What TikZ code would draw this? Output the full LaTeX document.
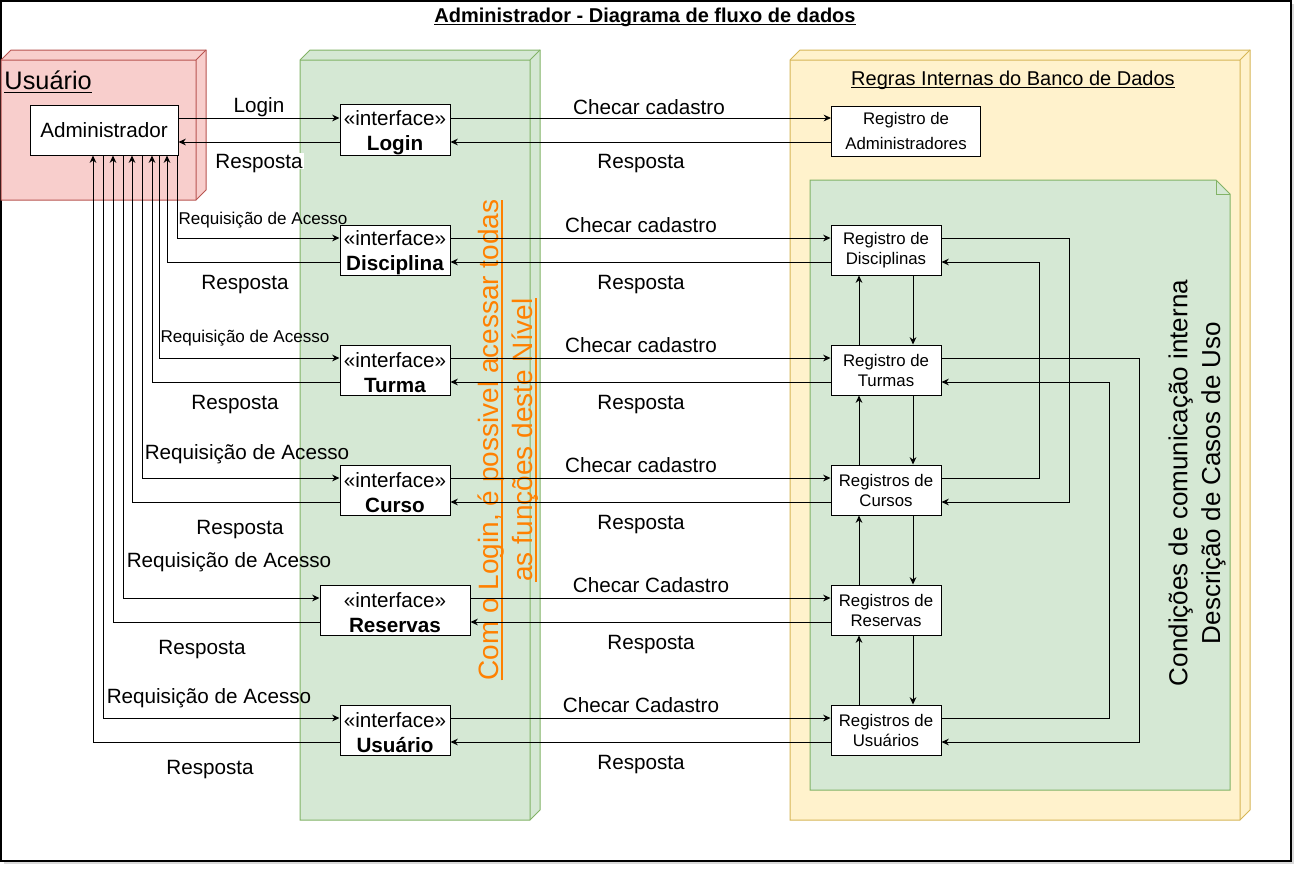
\documentclass[tikz,border=0pt]{standalone}
\usepackage{fontspec}
\setmainfont{Liberation Sans}
\usetikzlibrary{arrows.meta}
\usetikzlibrary{calc}

\definecolor{redfill}{HTML}{F8CECC}
\definecolor{redline}{HTML}{B85450}
\definecolor{greenfill}{HTML}{D5E8D4}
\definecolor{greenline}{HTML}{82B366}
\definecolor{yellowfill}{HTML}{FFF2CC}
\definecolor{yellowline}{HTML}{D6B656}
\definecolor{laranja}{HTML}{FF8000}

% sublinhado mais grosso
\newcommand{\sublinha}[1]{\setbox0\hbox{#1}\leavevmode\rlap{\rule[-0.15em]{\wd0}{0.06em}}\box0}

\tikzset{
  iface/.style={draw, fill=white, minimum width=82.5pt, minimum height=37.5pt, inner sep=0pt, align=center, font={\fontsize{15.5}{18.75}\selectfont}},
  regbox/.style={draw, fill=white, minimum width=82.5pt, minimum height=37.5pt, inner sep=0pt, align=center, font={\fontsize{12.6}{15}\selectfont}},
  lbl/.style={inner sep=1pt, text depth=0pt, font={\fontsize{15.5}{18.6}\selectfont}},
  slbl/.style={inner sep=1pt, text depth=0pt, font={\fontsize{12.8}{15}\selectfont}},
}

\begin{document}
\begin{tikzpicture}[x=0.75pt, y=-0.75pt, >={Stealth[length=5.5pt,width=5pt]}, line width=0.75pt]
    \useasboundingbox (0,0) rectangle (1302,872);
    % moldura
    \fill[black!15] (4,4) rectangle (1294,864);
    \draw[fill=white, line width=1.2pt] (1,1) rectangle (1291,861);
    \node (titulo) at (645,17) {\fontsize{15}{18}\selectfont\sublinha{\textbf{Administrador - Diagrama de fluxo de dados}}};

    % caixas 3D
    \filldraw[draw=redline, fill=redfill] (1,60) -- (11,50) -- (206,50) -- (206,190) -- (196,200) -- (1,200) -- cycle;
    \draw[redline] (1,60) -- (196,60) -- (196,200) (196,60) -- (206,50);
    \node[anchor=west, inner sep=0pt] (usuario-t) at (4,82) {\fontsize{19}{22}\selectfont\sublinha{Usuário}};

    \filldraw[draw=greenline, fill=greenfill] (300,60) -- (310,50) -- (540,50) -- (540,810) -- (530,820) -- (300,820) -- cycle;
    \draw[greenline] (300,60) -- (530,60) -- (530,820) (530,60) -- (540,50);

    \filldraw[draw=yellowline, fill=yellowfill] (790,60) -- (800,50) -- (1250,50) -- (1250,810) -- (1240,820) -- (790,820) -- cycle;
    \draw[yellowline] (790,60) -- (1240,60) -- (1240,820) (1240,60) -- (1250,50);
    \node (regras-t) at (1013,80) {\fontsize{15}{18}\selectfont\sublinha{Regras Internas do Banco de Dados}};

    % nota verde
    \filldraw[draw=greenline, fill=greenfill] (810,180) -- (1216,180) -- (1230,194) -- (1230,790) -- (810,790) -- cycle;
    \draw[greenline] (1216,180) -- (1216,194) -- (1230,194);
    \node[rotate=90, align=center, font={\fontsize{19.5}{24.5}\selectfont}] (cond-t) at (1197,483) {Condições de comunicação interna\\Descrição de Casos de Uso};

    \node[rotate=90, align=center, text=laranja, font={\fontsize{21}{25.5}\selectfont}] (login-t) at (508,440) {\sublinha{Com o Login, é possivel acessar todas}\\\sublinha{as funções deste Nível}};

    % nos
    \node[draw, fill=white, minimum width=111pt, minimum height=37.5pt, font={\fontsize{15.5}{18.6}\selectfont}] (admin) at (104,130) {Administrador};

    \node[iface] (login) at (395,130) {\rule{0pt}{15.5pt}«interface»\\\textbf{Login}};
    \node[iface] (disc) at (395,250) {\rule{0pt}{15.5pt}«interface»\\\textbf{Disciplina}};
    \node[iface] (turma) at (395,370) {\rule{0pt}{15.5pt}«interface»\\\textbf{Turma}};
    \node[iface] (curso) at (395,490) {\rule{0pt}{15.5pt}«interface»\\\textbf{Curso}};
    \node[iface, minimum width=112.5pt] (reserva) at (395,610) {\rule{0pt}{15.5pt}«interface»\\\textbf{Reservas}};
    \node[iface] (usuario) at (395,730) {\rule{0pt}{15.5pt}«interface»\\\textbf{Usuário}};

    \node[regbox, minimum width=111.75pt, font={\fontsize{12.6}{19}\selectfont}] (radmin) at (906,131) {Registro de\\Administradores};
    \node[regbox] (rdisc) at (886,250) {Registro de\\Disciplinas};
    \node[regbox] (rturma) at (886,370) {Registro de\\Turmas};
    \node[regbox] (rcurso) at (886,490) {Registros de\\Cursos};
    \node[regbox] (rreserva) at (886,610) {Registros de\\Reservas};
    \node[regbox] (rusu) at (886,730) {Registros de\\Usuários};

    % administrador <-> interfaces
    \draw[->] ($(admin.east)+(0,-12)$) -- ($(login.west)+(0,-12)$);
    \draw[->] ($(login.west)+(0,12)$) -- ($(admin.east)+(0,12)$);
    \draw[->] ($(admin.south)+(73,0)$) |- ($(disc.west)+(0,-12)$);
    \draw[->] ($(disc.west)+(0,12)$) -| ($(admin.south)+(63,0)$);
    \draw[->] ($(admin.south)+(55,0)$) |- ($(turma.west)+(0,-12)$);
    \draw[->] ($(turma.west)+(0,12)$) -| ($(admin.south)+(48,0)$);
    \draw[->] ($(admin.south)+(38,0)$) |- ($(curso.west)+(0,-12)$);
    \draw[->] ($(curso.west)+(0,12)$) -| ($(admin.south)+(28,0)$);
    \draw[->] ($(admin.south)+(19,0)$) |- ($(reserva.west)+(0,-12)$);
    \draw[->] ($(reserva.west)+(0,12)$) -| ($(admin.south)+(9,0)$);
    \draw[->] ($(admin.south)+(-1,0)$) |- ($(usuario.west)+(0,-12)$);
    \draw[->] ($(usuario.west)+(0,12)$) -| ($(admin.south)+(-11,0)$);

    % interfaces <-> registros
    \draw[->] ($(login.east)+(0,-12)$) -- ($(radmin.west)+(0,-13)$);
    \draw[->] ($(radmin.west)+(0,11)$) -- ($(login.east)+(0,12)$);
    \draw[->] ($(disc.east)+(0,-12)$) -- ($(rdisc.west)+(0,-12)$);
    \draw[->] ($(rdisc.west)+(0,12)$) -- ($(disc.east)+(0,12)$);
    \draw[->] ($(turma.east)+(0,-12)$) -- ($(rturma.west)+(0,-12)$);
    \draw[->] ($(rturma.west)+(0,12)$) -- ($(turma.east)+(0,12)$);
    \draw[->] ($(curso.east)+(0,-12)$) -- ($(rcurso.west)+(0,-12)$);
    \draw[->] ($(rcurso.west)+(0,12)$) -- ($(curso.east)+(0,12)$);
    \draw[->] ($(reserva.east)+(0,-12)$) -- ($(rreserva.west)+(0,-12)$);
    \draw[->] ($(rreserva.west)+(0,12)$) -- ($(reserva.east)+(0,12)$);
    \draw[->] ($(usuario.east)+(0,-12)$) -- ($(rusu.west)+(0,-12)$);
    \draw[->] ($(rusu.west)+(0,12)$) -- ($(usuario.east)+(0,12)$);

    % registros entre si
    \draw[->] ($(rdisc.south)+(27,0)$) -- ($(rturma.north)+(27,0)$);
    \draw[->] ($(rturma.north)+(-27,0)$) -- ($(rdisc.south)+(-27,0)$);
    \draw[->] ($(rturma.south)+(27,0)$) -- ($(rcurso.north)+(27,0)$);
    \draw[->] ($(rcurso.north)+(-27,0)$) -- ($(rturma.south)+(-27,0)$);
    \draw[->] ($(rcurso.south)+(27,0)$) -- ($(rreserva.north)+(27,0)$);
    \draw[->] ($(rreserva.north)+(-27,0)$) -- ($(rcurso.south)+(-27,0)$);
    \draw[->] ($(rreserva.south)+(27,0)$) -- ($(rusu.north)+(27,0)$);
    \draw[->] ($(rusu.north)+(-27,0)$) -- ($(rreserva.south)+(-27,0)$);

    \draw[->] ($(rdisc.east)+(0,-12)$) -- ++(128,0) |- ($(rcurso.east)+(0,12)$);
    \draw[->] ($(rcurso.east)+(0,-12)$) -- ++(98,0) |- ($(rdisc.east)+(0,12)$);
    \draw[->] ($(rturma.east)+(0,-12)$) -- ++(198,0) |- ($(rusu.east)+(0,12)$);
    \draw[->] ($(rusu.east)+(0,-12)$) -- ++(168,0) |- ($(rturma.east)+(0,12)$);

    % rotulos
    \node[lbl] (l-login) at (259,105) {Login};
    \node[lbl, fill=white] (l-resp0) at (259,161) {Resposta};
    \node[slbl] (l-req1) at (263,218) {Requisição de Acesso};
    \node[lbl] (l-resp1) at (245,282) {Resposta};
    \node[slbl] (l-req2) at (245,336) {Requisição de Acesso};
    \node[lbl] (l-resp2) at (235,402) {Resposta};
    \node[lbl] (l-req3) at (247,452) {Requisição de Acesso};
    \node[lbl] (l-resp3) at (240,527) {Resposta};
    \node[lbl] (l-req4) at (229,560) {Requisição de Acesso};
    \node[lbl] (l-resp4) at (202,647) {Resposta};
    \node[lbl] (l-req5) at (209,696) {Requisição de Acesso};
    \node[lbl] (l-resp5) at (210,767) {Resposta};

    \node[lbl] (l-chk0) at (649,107) {Checar cadastro};
    \node[lbl] (l-rr0) at (641,161) {Resposta};
    \node[lbl] (l-chk1) at (641,225) {Checar cadastro};
    \node[lbl] (l-rr1) at (641,282) {Resposta};
    \node[lbl] (l-chk2) at (641,345) {Checar cadastro};
    \node[lbl] (l-rr2) at (641,402) {Resposta};
    \node[lbl] (l-chk3) at (641,465) {Checar cadastro};
    \node[lbl] (l-rr3) at (641,522) {Resposta};
    \node[lbl] (l-chk4) at (651,585) {Checar Cadastro};
    \node[lbl] (l-rr4) at (651,642) {Resposta};
    \node[lbl] (l-chk5) at (641,705) {Checar Cadastro};
    \node[lbl] (l-rr5) at (641,762) {Resposta};
\end{tikzpicture}
\end{document}
